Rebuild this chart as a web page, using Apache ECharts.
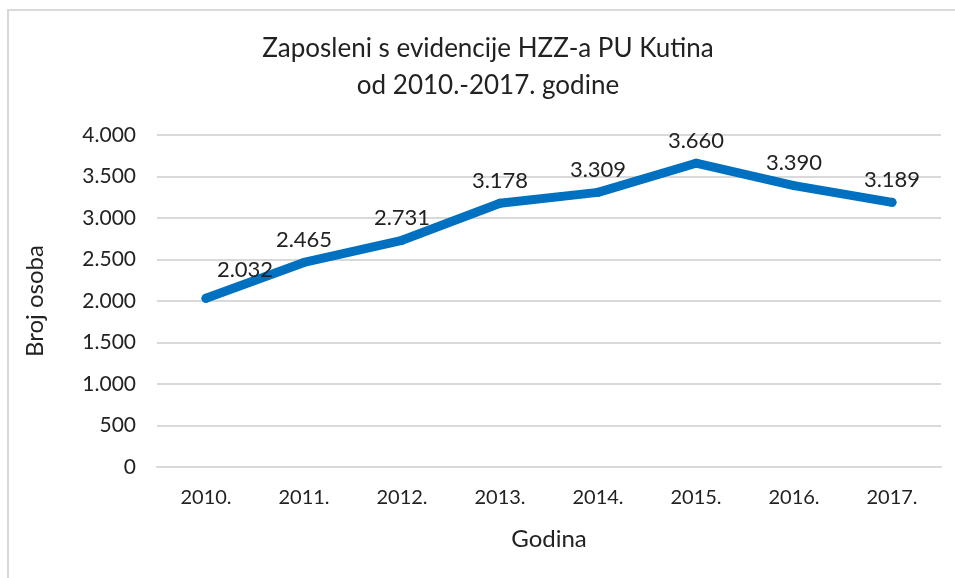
<!DOCTYPE html>
<html>
<head>
<meta charset="utf-8">
<script src="https://cdn.jsdelivr.net/npm/echarts@6/dist/echarts.min.js"></script>
<style>
  html,body{margin:0;padding:0;background:#fff;}
  #chart{width:955px;height:578px;}
</style>
</head>
<body>
<div id="chart"></div>
<script>
var godine = ['2010.', '2011.', '2012.', '2013.', '2014.', '2015.', '2016.', '2017.'];
var zaposleni = [2032, 2465, 2731, 3178, 3309, 3660, 3390, 3189];
var yTicks = [0, 500, 1000, 1500, 2000, 2500, 3000, 3500, 4000];

// tocka kao separator tisucica
function fmt(v) {
  return String(v).replace(/\B(?=(\d{3})+(?!\d))/g, '.');
}

var font = 'Lato, "Open Sans", sans-serif';
var chart = echarts.init(document.getElementById('chart'));
var option = {
  animation: false,
  title: {
    text: 'Zaposleni s evidencije HZZ-a PU Kutina\nod 2010.-2017. godine',
    left: 483,
    textAlign: 'center',
    top: 25,
    textStyle: {
      fontFamily: font,
      fontSize: 26,
      fontWeight: 'normal',
      color: '#222',
      lineHeight: 37
    }
  },
  graphic: [{
    type: 'rect',
    shape: {x: 8, y: 10, width: 1000, height: 700},
    style: {fill: 'none', stroke: '#d9d9d9', lineWidth: 2},
    silent: true
  }],
  grid: {left: 157, right: 14, top: 135, bottom: 111},
  xAxis: {
    type: 'category',
    data: godine,
    name: 'Godina',
    nameLocation: 'middle',
    nameGap: 60,
    nameTextStyle: {fontFamily: font, fontSize: 24, color: '#222'},
    axisLine: {lineStyle: {color: '#d9d9d9', width: 2}},
    axisTick: {show: false},
    axisLabel: {fontFamily: font, fontSize: 20, color: '#222', margin: 21}
  },
  yAxis: {
    type: 'value',
    min: yTicks[0],
    max: yTicks[yTicks.length - 1],
    interval: 500,
    name: 'Broj osoba',
    nameLocation: 'middle',
    nameGap: 110,
    nameTextStyle: {fontFamily: font, fontSize: 24, color: '#222'},
    axisLine: {show: false},
    axisTick: {show: false},
    splitLine: {lineStyle: {color: '#d9d9d9', width: 2}},
    axisLabel: {
      fontFamily: font, fontSize: 21, color: '#222', margin: 21,
      formatter: function (v) { return fmt(v); }
    }
  },
  series: [{
    type: 'line',
    data: zaposleni.map(function (v, i) {
      var d = {value: v};
      if (i === 0) d.label = {offset: [39, -6]};
      return d;
    }),
    symbol: 'circle',
    symbolSize: 9,
    showSymbol: true,
    itemStyle: {color: '#0070c0', borderWidth: 0},
    lineStyle: {color: '#0070c0', width: 9, cap: 'round', join: 'round'},
    label: {
      show: true,
      position: 'top',
      distance: 7,
      fontFamily: font,
      fontSize: 22,
      color: '#222',
      formatter: function (p) { return fmt(p.value); }
    }
  }]
};
chart.setOption(option);
</script>
</body>
</html>
